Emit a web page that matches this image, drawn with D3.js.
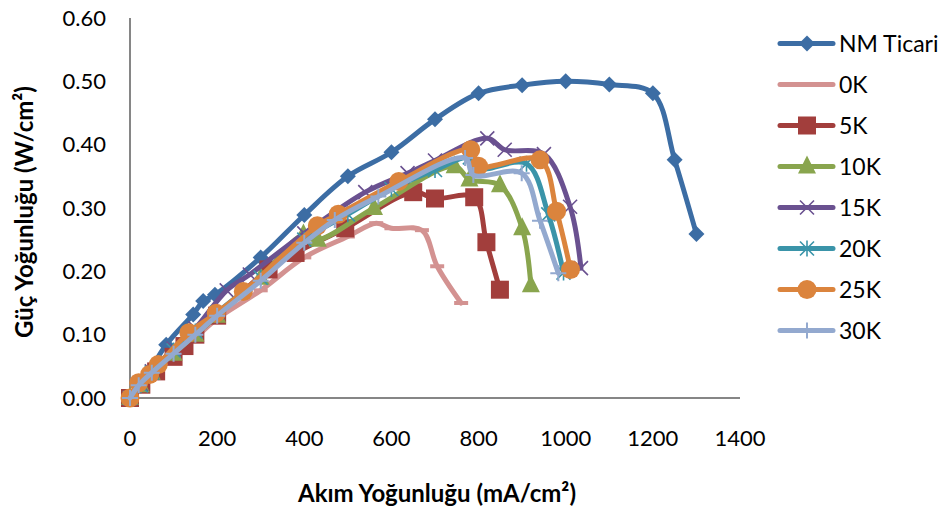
<html lang="en">
  <head>
    <meta charset="UTF-8" />
    <title>Güç Yoğunluğu</title>
    <script src="https://d3js.org/d3.v7.min.js"></script>
  </head>
  <style>
    body {
      margin: 0;
      background: #fff;
    }
    svg {
      font-family: Lato, "Open Sans", sans-serif;
    }
    .tick-label {
      font-size: 22px;
      fill: #000;
    }
    .axis-title {
      font-size: 24px;
      font-weight: bold;
    }
    .legend-label {
      font-size: 23px;
    }
  </style>
  <body>
    <div id="viz"></div>
    <script>
      // values (current mA/cm2, power W/cm2)
      var nmX = [0, 25, 83, 145, 168, 195, 300, 400, 500, 600, 700, 800, 900, 1000, 1100, 1200, 1250, 1300];
      var nmY = [0, 0.02, 0.084, 0.132, 0.153, 0.163, 0.222, 0.289, 0.35, 0.388, 0.44, 0.481, 0.494, 0.5, 0.495, 0.481, 0.376, 0.259];

      var k0X = [0, 25, 50, 100, 150, 200, 300, 400, 500, 565, 600, 670, 705, 760];
      var k0Y = [0, 0.018, 0.035, 0.065, 0.095, 0.125, 0.17, 0.222, 0.255, 0.276, 0.268, 0.265, 0.208, 0.15];

      var k5X = [0, 26, 60, 100, 125, 150, 200, 318, 380, 494, 650, 700, 790, 818, 849];
      var k5Y = [0, 0.021, 0.042, 0.065, 0.082, 0.1, 0.13, 0.203, 0.229, 0.268, 0.325, 0.315, 0.317, 0.246, 0.171];

      var k10X = [0, 25, 50, 100, 150, 200, 300, 398, 431, 560, 745, 779, 849, 900, 920];
      var k10Y = [0, 0.02, 0.04, 0.07, 0.1, 0.13, 0.19, 0.258, 0.25, 0.3, 0.366, 0.345, 0.336, 0.268, 0.178];

      var k15X = [0, 25, 50, 100, 150, 222, 275, 400, 540, 637, 700, 820, 860, 950, 1010, 1035];
      var k15Y = [0, 0.022, 0.042, 0.078, 0.11, 0.17, 0.195, 0.26, 0.325, 0.355, 0.375, 0.41, 0.392, 0.385, 0.302, 0.205];

      var k20X = [0, 25, 50, 100, 150, 200, 300, 400, 500, 600, 700, 780, 800, 910, 960, 995];
      var k20Y = [0, 0.02, 0.04, 0.075, 0.105, 0.135, 0.19, 0.25, 0.29, 0.33, 0.36, 0.38, 0.362, 0.37, 0.29, 0.198];

      var k25X = [0, 20, 45, 65, 135, 198, 260, 430, 478, 617, 782, 800, 941, 979, 1011];
      var k25Y = [0, 0.024, 0.037, 0.053, 0.103, 0.134, 0.168, 0.272, 0.29, 0.342, 0.392, 0.366, 0.376, 0.295, 0.203];

      var k30X = [0, 20, 50, 100, 150, 200, 300, 400, 470, 570, 769, 788, 899, 941, 983];
      var k30Y = [0, 0.02, 0.04, 0.07, 0.1, 0.13, 0.185, 0.245, 0.281, 0.318, 0.379, 0.352, 0.355, 0.28, 0.197];

      var seriesNames = ["NM Ticari", "0K", "5K", "10K", "15K", "20K", "25K", "30K"];
      var xTicks = [0, 200, 400, 600, 800, 1000, 1200, 1400];
      var yTicks = [0, 0.1, 0.2, 0.3, 0.4, 0.5, 0.6];

      var colors = ["#3C6DA4", "#D39291", "#A23E3C", "#89A54E", "#6A5190", "#3A94A9", "#DB843D", "#93A9CF"];
      var markers = ["diamond", "dash", "square", "triangle", "cross", "star", "circle", "plus"];

      var series = [
        [nmX, nmY], [k0X, k0Y], [k5X, k5Y], [k10X, k10Y],
        [k15X, k15Y], [k20X, k20Y], [k25X, k25Y], [k30X, k30Y]
      ].map(function (s, i) {
        return {
          name: seriesNames[i],
          color: colors[i],
          marker: markers[i],
          points: s[0].map(function (x, j) { return [x, s[1][j]]; })
        };
      });

      var width = 945, height = 512;
      var svg = d3.select("#viz").append("svg")
        .attr("width", width)
        .attr("height", height);

      var x = d3.scaleLinear().domain([0, 1400]).range([130, 740]);
      var y = d3.scaleLinear().domain([0, 0.6]).range([398, 18]);

      // axes
      svg.append("line")
        .attr("x1", x(0)).attr("x2", x(0))
        .attr("y1", y(0.6)).attr("y2", y(0) + 1)
        .attr("stroke", "#868686").attr("stroke-width", 2);
      svg.append("line")
        .attr("x1", x(0)).attr("x2", x(1400))
        .attr("y1", y(0)).attr("y2", y(0))
        .attr("stroke", "#868686").attr("stroke-width", 2);

      svg.selectAll("text.ytick")
        .data(yTicks)
        .enter()
        .append("text")
        .attr("class", "tick-label")
        .attr("x", 106)
        .attr("y", function (d) { return y(d); })
        .attr("dy", "0.35em")
        .attr("text-anchor", "end")
        .text(function (d) { return d.toFixed(2); });

      svg.selectAll("text.xtick")
        .data(xTicks)
        .enter()
        .append("text")
        .attr("class", "tick-label")
        .attr("x", function (d) { return x(d); })
        .attr("y", 446)
        .attr("text-anchor", "middle")
        .text(function (d) { return d; });

      svg.append("text")
        .attr("class", "axis-title")
        .attr("x", 437)
        .attr("y", 502)
        .attr("text-anchor", "middle")
        .text("Akım Yoğunluğu (mA/cm²)");

      svg.append("text")
        .attr("class", "axis-title")
        .attr("transform", "translate(33,212) rotate(-90)")
        .attr("text-anchor", "middle")
        .text("Güç Yoğunluğu (W/cm²)");

      // marker shapes
      function drawMarker(g, type, color) {
        if (type == "diamond") {
          g.append("path").attr("d", "M0,-8L8,0L0,8L-8,0Z").attr("fill", color);
        } else if (type == "square") {
          g.append("rect").attr("x", -9).attr("y", -9).attr("width", 18).attr("height", 18).attr("fill", color);
        } else if (type == "triangle") {
          g.append("path").attr("d", "M0,-11L9,7L-9,7Z").attr("fill", color);
        } else if (type == "circle") {
          g.append("circle").attr("r", 9.5).attr("fill", color);
        } else if (type == "dash") {
          g.append("path").attr("d", "M-7,0H7").attr("stroke", color).attr("stroke-width", 4);
        } else {
          var d = "";
          if (type == "cross" || type == "star") d += "M-7,-7L7,7M-7,7L7,-7";
          if (type == "star" || type == "plus") d += "M0,-8V8";
          if (type == "plus") d += "M-8,0H8";
          g.append("path").attr("d", d).attr("stroke", color)
            .attr("stroke-width", type == "plus" ? 2 : 1.6).attr("fill", "none");
        }
      }

      var line = d3.line()
        .x(function (d) { return x(d[0]); })
        .y(function (d) { return y(d[1]); })
        .curve(d3.curveCatmullRom.alpha(0.5));

      var seriesG = svg.selectAll("g.series")
        .data(series)
        .enter()
        .append("g")
        .attr("class", "series");

      seriesG.append("path")
        .attr("d", function (d) { return line(d.points); })
        .attr("fill", "none")
        .attr("stroke", function (d) { return d.color; })
        .attr("stroke-width", 5)
        .attr("stroke-linejoin", "round")
        .attr("stroke-linecap", "round");

      seriesG.each(function (s) {
        var g = d3.select(this);
        s.points.forEach(function (p) {
          var m = g.append("g").attr("transform", "translate(" + x(p[0]) + "," + y(p[1]) + ")");
          drawMarker(m, s.marker, s.color);
        });
      });

      // legend
      var legend = svg.selectAll("g.legend")
        .data(series)
        .enter()
        .append("g")
        .attr("class", "legend")
        .attr("transform", function (d, i) {
          return "translate(780," + (43.5 + i * 41) + ")";
        });

      legend.append("line")
        .attr("x1", 0).attr("x2", 53)
        .attr("stroke", function (d) { return d.color; })
        .attr("stroke-width", 5)
        .attr("stroke-linecap", "round");

      legend.each(function (s) {
        var m = d3.select(this).append("g").attr("transform", "translate(27,0)");
        drawMarker(m, s.marker, s.color);
      });

      legend.append("text")
        .attr("class", "legend-label")
        .attr("x", 59)
        .attr("dy", "0.35em")
        .text(function (d) { return d.name; });
    </script>
  </body>
</html>
